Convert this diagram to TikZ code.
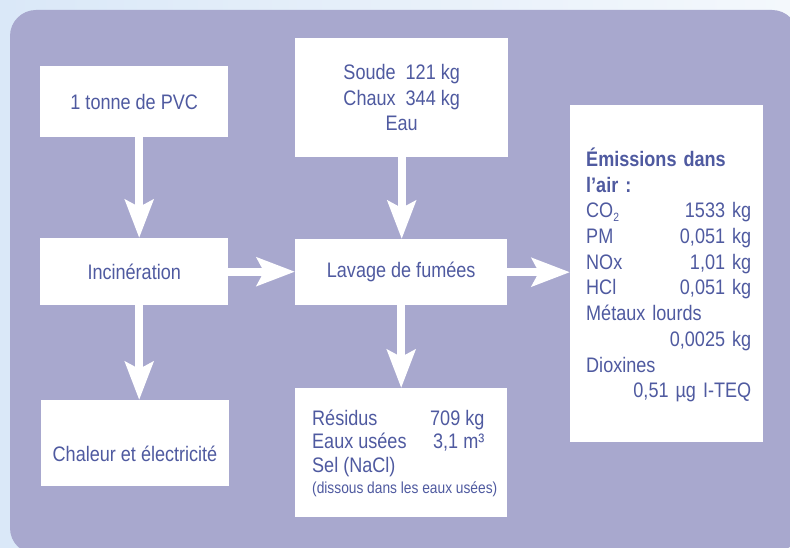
\documentclass[tikz,border=0pt]{standalone}
\usepackage{fontspec}
\setmainfont{Liberation Sans}[FakeStretch=0.86]
\usetikzlibrary{arrows.meta}
\definecolor{panel}{HTML}{A8A8CE}
\definecolor{txt}{HTML}{4F5AA0}
\definecolor{bgl}{HTML}{DAE8F8}
\definecolor{bgr}{HTML}{F4F8FC}
\begin{document}
\begin{tikzpicture}[x=1pt,y=-1pt,
  box/.style={fill=white, draw=none, anchor=north west, inner sep=0pt,
    text=txt, font=\fontsize{21}{25.5}\selectfont, align=center},
  txtnode/.style={inner sep=0pt, text=txt},
  flow/.style={draw=white, line width=8pt, -{Stealth[length=38pt,width=28pt,inset=7pt]}}]
\useasboundingbox (0,0) rectangle (790,548);
\clip (0,0) rectangle (790,548);
\shade[left color=bgl, right color=bgr] (0,0) rectangle (790,548);
\fill[panel, rounded corners=26pt] (10,10) rectangle (798,554);

\node[box, minimum width=188pt, minimum height=71pt] (pvc) at (40,66) {1 tonne de PVC};
\node[box, minimum width=213pt, minimum height=119pt] (soude) at (295,38)
  {Soude\ \ 121 kg\\ Chaux\ \ 344 kg\\ Eau};
\node[box, minimum width=188pt, minimum height=67pt] (incin) at (40,238) {Incinération};
\node[box, minimum width=212pt, minimum height=66pt] (lavage) at (295,239) {Lavage de fumées};
\node[box, minimum width=188pt, minimum height=86pt] (chaleur) at (41,400) {};
\node[box, minimum width=212pt, minimum height=129pt] (residus) at (295,388) {};
\node[box, minimum width=193pt, minimum height=337pt] (emis) at (570,105) {};

\node[txtnode, font=\fontsize{21}{25.5}\selectfont] (chtxt) at (135,454) {Chaleur et électricité};

\node[txtnode, anchor=west, align=left, font=\fontsize{21}{23.5}\selectfont] (restxt) at (312,453)
  {\makebox[118pt][l]{Résidus}709 kg\\
   \makebox[121pt][l]{Eaux usées}3,1 m³\\
   Sel (NaCl)\\[-2.5pt]
   {\fontsize{16}{21}\selectfont (dissous dans les eaux usées)}};

\node[txtnode, anchor=west, align=left, text width=165pt, font=\fontsize{21}{25.7}\selectfont] (emtxt) at (586,275)
  {{\bfseries Émissions dans}\\
   {\bfseries l’air :}\\
   CO\raisebox{-4pt}{\fontsize{12}{12}\selectfont 2}\hfill 1533 kg\\
   PM\hfill 0,051 kg\\
   NOx\hfill 1,01 kg\\
   HCl\hfill 0,051 kg\\
   Métaux lourds\\
   \mbox{}\hfill 0,0025 kg\\
   Dioxines\\
   \mbox{}\hfill 0,51 µg I-TEQ};

\draw[flow] ([xshift=5pt]pvc.south) -- ([xshift=5pt]pvc.south |- incin.north);
\draw[flow] ([xshift=5pt]incin.south) -- ([xshift=5pt]incin.south |- chaleur.north);
\draw[flow] (soude.south) -- (soude.south |- lavage.north);
\draw[flow] (lavage.south) -- (lavage.south |- residus.north);
\draw[flow] (incin.east) -- (incin.east -| lavage.west);
\draw[flow] (lavage.east) -- (lavage.east -| emis.west);
\end{tikzpicture}
\end{document}
